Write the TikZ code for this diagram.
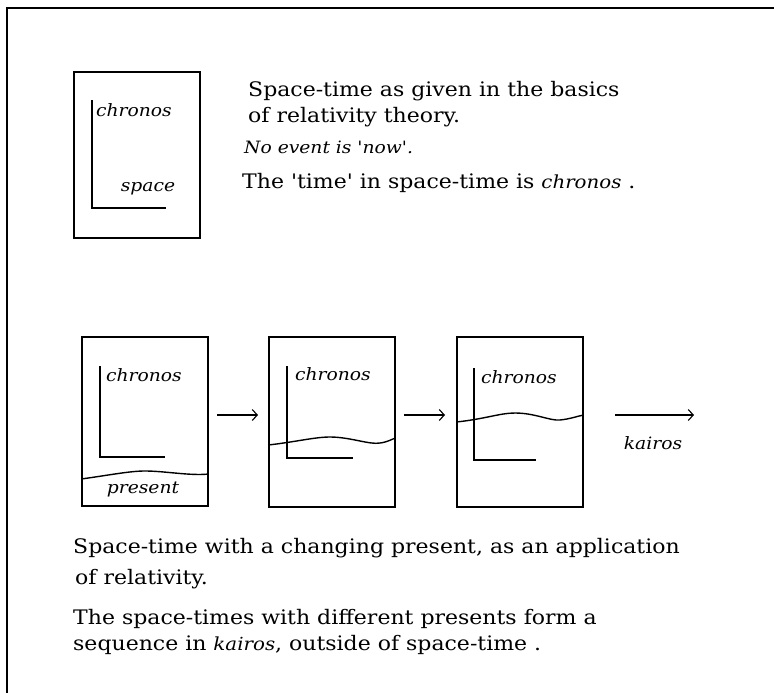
\documentclass[tikz,border=0pt]{standalone}
\usepackage{fontspec}
\setmainfont[FakeStretch=1.1,Ligatures=TeXOff]{DejaVu Serif}
\usetikzlibrary{arrows.meta}
\tikzset{
  frame/.style={line width=2.5pt},
  stbox/.style={draw,line width=1.4pt,minimum width=126pt,inner sep=0pt},
  axis/.style={line width=1.4pt},
  wave/.style={line width=1.4pt},
  txt/.style={anchor=west,inner sep=0pt,font=\fontsize{20}{24}\selectfont},
  lbl/.style={inner sep=0pt,font=\fontsize{17}{20}\itshape},
  seqarrow/.style={line width=1.1pt,-{Straight Barb[length=5pt,width=11pt]}}
}
\begin{document}
\begin{tikzpicture}[x=1pt,y=-1pt]
\useasboundingbox (0,0) rectangle (774,693);
% outer frame (top and left edges)
\draw[frame] (774,8) -- (7,8) -- (7,693);
% top space-time box
\node[stbox,minimum height=166pt] (top) at (137,155) {};
\draw[axis] (92,100) coordinate (ta) -- (92,208) coordinate (tc) -- (166,208) coordinate (tb);
\node[lbl,anchor=west] (tchr) at (96,110) {chronos};
\node[lbl] (tspace) at (148,189) {space};
% top texts
\node[txt] (t1) at (248,91) {Space-time as given in the basics};
\node[txt] (t2) at (248,117) {of relativity theory.};
\node[txt,font=\fontsize{17}{20}\selectfont\itshape] (t3) at (244,147) {No event is 'now'.};
\node[txt] (t4) at (242,183) {The 'time' in space-time is {\fontsize{18}{20}\selectfont\itshape chronos} .};
% bottom row boxes
\node[stbox,minimum height=169pt] (b1) at (145,421.5) {};
\node[stbox,minimum height=170pt] (b2) at (332,422) {};
\node[stbox,minimum height=170pt] (b3) at (520,422) {};
% box 1
\draw[axis] (100,366) -- (100,457) -- (165,457);
\node[lbl,anchor=west] (c1) at (106,375) {chronos};
\draw[wave] (b1.west |- 0,479) .. controls (110,475) and (130,471) .. (145,471) .. controls (165,471) and (190,476) .. (b1.east |- 0,474);
\node[lbl] (p1) at (143,489) {present};
% box 2
\draw[axis] (287,366) -- (287,458) -- (353,458);
\node[lbl,anchor=west] (c2) at (295,374) {chronos};
\draw[wave] (b2.west |- 0,445) .. controls (295,442) and (315,437) .. (330,437) .. controls (350,437) and (370,445) .. (380,443) .. controls (388,442) and (392,439) .. (b2.east |- 0,438);
% box 3
\draw[axis] (474,368) -- (474,460) -- (536,460);
\node[lbl,anchor=west] (c3) at (481,377) {chronos};
\draw[wave] (b3.west |- 0,422) .. controls (485,419) and (500,413) .. (515,413) .. controls (535,413) and (550,421) .. (560,420) .. controls (570,419) and (578,416) .. (b3.east |- 0,415);
% arrows
\coordinate (a1s) at (217,415); \coordinate (a1e) at (258,415);
\coordinate (a2s) at (404,415); \coordinate (a2e) at (445,415);
\coordinate (a3s) at (615,415); \coordinate (a3e) at (694,415);
\draw[seqarrow] (a1s) -- (a1e);
\draw[seqarrow] (a2s) -- (a2e);
\draw[seqarrow] (a3s) -- (a3e);
\node[lbl] (kai) at (653,443) {kairos};
% bottom texts
\node[txt] (u1) at (73,548) {Space-time with a changing present, as an application};
\node[txt] (u2) at (75,579) {of relativity.};
\node[txt] (u3) at (73,619) {The space-times with different presents form a};
\node[txt] (u4) at (73,645) {sequence in {\fontsize{18}{20}\selectfont\itshape kairos}, outside of space-time .};
\end{tikzpicture}
\end{document}
